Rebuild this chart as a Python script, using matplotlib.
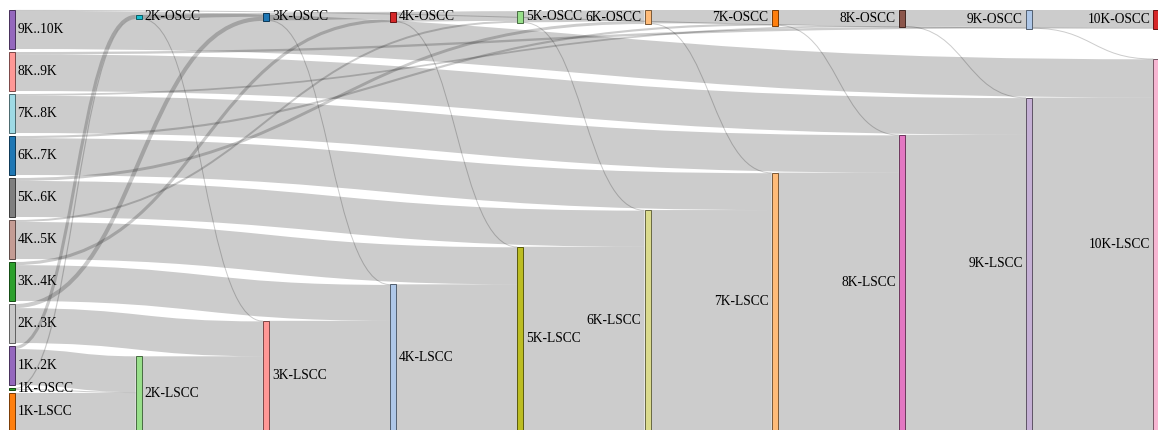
import matplotlib
matplotlib.use("Agg")
import matplotlib.pyplot as plt
from matplotlib.path import Path
from matplotlib.patches import PathPatch, Rectangle
import matplotlib.colors as mcolors

levels = ["1K", "2K", "3K", "4K", "5K", "6K", "7K", "8K", "9K", "10K"]
ranges = ["1K..2K", "2K..3K", "3K..4K", "4K..5K", "5K..6K", "6K..7K", "7K..8K", "8K..9K", "9K..10K"]
first_oscc = 50
first_lscc = 950

# flows from level k (and range k) into level k+1
lscc_to_lscc = [950, 1890, 2800, 3735, 4700, 5640, 6600, 7570, 8525]
oscc_to_oscc = [30, 95, 185, 250, 285, 345, 385, 415, 460]
oscc_to_lscc = [20, 15, 15, 15, 15, 15, 15, 15, 15]
range_to_lscc = [920, 895, 920, 950, 925, 945, 955, 940, 980]
range_to_oscc = [80, 105, 80, 50, 75, 55, 45, 60, 20]

range_colors = ["#9467bd", "#c7c7c7", "#2ca02c", "#c49c94", "#7f7f7f", "#1f77b4", "#9edae5", "#ff9896", "#9467bd"]
oscc_colors = ["#2ca02c", "#17becf", "#1f77b4", "#d62728", "#98df8a", "#ffbb78", "#ff7f0e", "#8c564b", "#aec7e8", "#d62728"]
lscc_colors = ["#ff7f0e", "#98df8a", "#ff9896", "#aec7e8", "#bcbd22", "#dbdb8d", "#ffbb78", "#e377c2", "#c5b0d5", "#f7b6d2"]

W, H = 1158, 430
top, bottom = 10, 430
left = 8.5
nw = 6
pad = 3
col_step = 127.2
oscc_center = 17

# build nodes
nodes = {}
order = []
def add_node(name, col, color):
    nodes[name] = dict(name=name, col=col, color=color, src=[], tgt=[], idx=len(order))
    order.append(name)

for i, lv in enumerate(levels):
    add_node(lv + "-OSCC", i, oscc_colors[i])
    add_node(lv + "-LSCC", i, lscc_colors[i])
for i, r in enumerate(ranges):
    add_node(r, 0, range_colors[i])

links = []
def add_link(s, t, v):
    if v <= 0:
        return
    lk = dict(s=s, t=t, v=v, idx=len(links))
    links.append(lk)
    nodes[s]["src"].append(lk)
    nodes[t]["tgt"].append(lk)

for k in range(9):
    a, b = levels[k], levels[k + 1]
    add_link(a + "-LSCC", b + "-LSCC", lscc_to_lscc[k])
    add_link(a + "-OSCC", b + "-OSCC", oscc_to_oscc[k])
    add_link(a + "-OSCC", b + "-LSCC", oscc_to_lscc[k])
    add_link(ranges[k], b + "-LSCC", range_to_lscc[k])
    add_link(ranges[k], b + "-OSCC", range_to_oscc[k])

nodes["1K-OSCC"]["value"] = first_oscc
nodes["1K-LSCC"]["value"] = first_lscc
for n in nodes.values():
    if "value" not in n:
        n["value"] = max(sum(l["v"] for l in n["src"]), sum(l["v"] for l in n["tgt"]))

# layout
col0 = list(reversed(ranges)) + ["1K-OSCC", "1K-LSCC"]
ky = (bottom - top - pad * (len(col0) - 1)) / sum(nodes[n]["value"] for n in col0)
for n in nodes.values():
    n["x0"] = left + n["col"] * col_step
    n["x1"] = n["x0"] + nw
    n["h"] = n["value"] * ky
y = top
for name in col0:
    nodes[name]["y0"] = y
    y += nodes[name]["h"] + pad
for lv in levels[1:]:
    o = nodes[lv + "-OSCC"]
    o["y0"] = max(top, oscc_center - o["h"] / 2)
    nodes[lv + "-LSCC"]["y0"] = bottom - nodes[lv + "-LSCC"]["h"]

for n in nodes.values():
    yy = n["y0"]
    for lk in sorted(n["src"], key=lambda l: (nodes[l["t"]]["y0"], l["idx"])):
        w = lk["v"] * ky
        lk["y0"] = yy + w / 2
        yy += w
    yy = n["y0"]
    for lk in sorted(n["tgt"], key=lambda l: (nodes[l["s"]]["y0"], l["idx"])):
        w = lk["v"] * ky
        lk["y1"] = yy + w / 2
        yy += w

fig = plt.figure(figsize=(W / 100, H / 100), dpi=100)
ax = fig.add_axes([0, 0, 1, 1])
ax.set_xlim(0, W)
ax.set_ylim(H, 0)
ax.axis("off")

px = 72 / 100
for lk in links:
    sx = nodes[lk["s"]]["x1"]
    tx = nodes[lk["t"]]["x0"]
    xm = (sx + tx) / 2
    p = Path([(sx, lk["y0"]), (xm, lk["y0"]), (xm, lk["y1"]), (tx, lk["y1"])],
             [Path.MOVETO, Path.CURVE4, Path.CURVE4, Path.CURVE4])
    ax.add_patch(PathPatch(p, fill=False, edgecolor=(0, 0, 0, 0.2),
                           lw=max(lk["v"] * ky, 1) * px, capstyle="butt"))

for name in order:
    n = nodes[name]
    rgb = mcolors.to_rgb(n["color"])
    dark = tuple(c * 0.49 for c in rgb)
    ax.add_patch(Rectangle((n["x0"], n["y0"]), nw, n["h"], facecolor=rgb,
                           edgecolor=dark, lw=px))
    cy = n["y0"] + n["h"] / 2
    if n["x0"] < W / 2:
        ax.text(n["x1"] + 3, cy, name, ha="left", va="center",
                fontsize=13.5 * px, family="Liberation Serif")
    else:
        ax.text(n["x0"] - 3, cy, name, ha="right", va="center",
                fontsize=13.5 * px, family="Liberation Serif")

fig.savefig("out.png", dpi=100)
